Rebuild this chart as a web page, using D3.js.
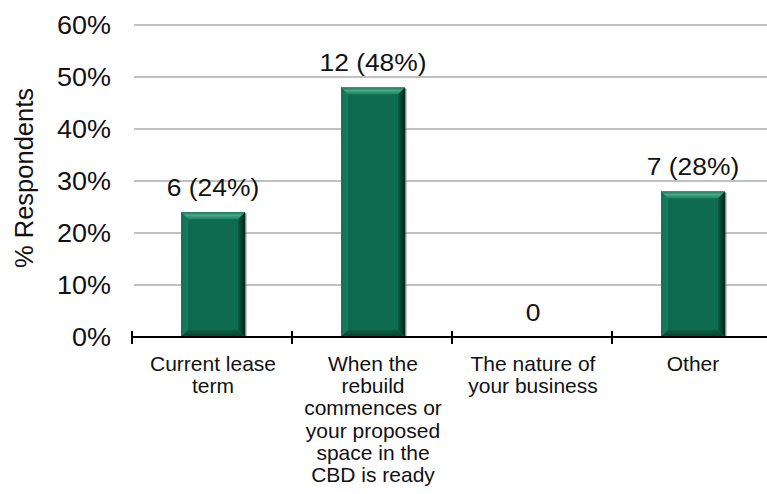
<!DOCTYPE html>
<html>
<head>
<meta charset="utf-8">
<script src="https://cdn.jsdelivr.net/npm/d3@7"></script>
<style>
  html, body { margin: 0; padding: 0; background: #fff; }
  svg { display: block; font-family: "Liberation Sans", Arial, sans-serif; }
</style>
</head>
<body>
<svg id="chart" width="767" height="494"></svg>
<script>
// Survey answers: what drives the timing of a move back to the CBD
const categories = ["Current lease term", "When the rebuild commences or your proposed space in the CBD is ready", "The nature of your business", "Other"];
const categoryLines = [
  ["Current lease", "term"],
  ["When the", "rebuild", "commences or", "your proposed", "space in the", "CBD is ready"],
  ["The nature of", "your business"],
  ["Other"]
];
const counts = [6, 12, 0, 7];
const shares = [0.24, 0.48, 0, 0.28];
const yTicks = [0, 0.1, 0.2, 0.3, 0.4, 0.5, 0.6];
const yTitle = "% Respondents";

const svg = d3.select("#chart");

const x = d3.scaleBand().domain(categories).range([132, 772]).paddingInner(0).paddingOuter(0);
const y = d3.scaleLinear().domain([0, 0.6]).range([337, 25]);
const barW = x.bandwidth() * 0.4;

// gradients for the bevelled bar faces
const defs = svg.append("defs");
const gTop = defs.append("linearGradient").attr("id", "bevTop").attr("x1", 0).attr("y1", 0).attr("x2", 0).attr("y2", 1);
gTop.append("stop").attr("offset", "0%").attr("stop-color", "#1a7a5a");
gTop.append("stop").attr("offset", "45%").attr("stop-color", "#45a886");
gTop.append("stop").attr("offset", "100%").attr("stop-color", "#1d8060");
const gRight = defs.append("linearGradient").attr("id", "bevRight").attr("x1", 0).attr("y1", 0).attr("x2", 1).attr("y2", 0);
gRight.append("stop").attr("offset", "0%").attr("stop-color", "#0b5a41");
gRight.append("stop").attr("offset", "100%").attr("stop-color", "#03261b");
const gLeft = defs.append("linearGradient").attr("id", "bevLeft").attr("x1", 0).attr("y1", 0).attr("x2", 1).attr("y2", 0);
gLeft.append("stop").attr("offset", "0%").attr("stop-color", "#137255");
gLeft.append("stop").attr("offset", "100%").attr("stop-color", "#1a7b5c");
const gBot = defs.append("linearGradient").attr("id", "bevBot").attr("x1", 0).attr("y1", 0).attr("x2", 0).attr("y2", 1);
gBot.append("stop").attr("offset", "0%").attr("stop-color", "#0d5c43");
gBot.append("stop").attr("offset", "100%").attr("stop-color", "#08412f");

// horizontal gridlines
svg.append("g").selectAll("line").data(yTicks.slice(1)).join("line")
  .attr("x1", 134).attr("x2", 767)
  .attr("y1", d => y(d)).attr("y2", d => y(d))
  .attr("stroke", "#a9adad").attr("stroke-width", 1.3);

// y tick labels
svg.append("g").selectAll("text").data(yTicks).join("text")
  .attr("transform", d => `translate(111,${y(d)}) scale(1.08,1)`)
  .attr("dy", "0.36em")
  .attr("text-anchor", "end")
  .attr("font-size", 25)
  .attr("fill", "#111")
  .text(d => d3.format(".0%")(d));

// y axis title
svg.append("text")
  .attr("transform", "translate(33,178) rotate(-90)")
  .attr("text-anchor", "middle")
  .attr("font-size", 25.5)
  .attr("fill", "#111")
  .text(yTitle);

// bars with bevelled edges
const bev = 7;
const bars = svg.append("g").selectAll("g").data(categories.map((c, i) => ({c, i, v: shares[i]}))).join("g");
bars.each(function(d) {
  if (d.v <= 0) return;
  const g = d3.select(this);
  const x0 = x(d.c) + (x.bandwidth() - barW) / 2 + 1;
  const x1 = x0 + barW;
  const y0 = y(d.v);
  const y1 = y(0);
  // thin shadow at the right edge
  g.append("rect").attr("x", x1).attr("y", y0 + 1).attr("width", 1.5).attr("height", y1 - y0 - 1).attr("fill", "#2a3a34").attr("opacity", 0.55);
  g.append("rect").attr("x", x0).attr("y", y0).attr("width", barW).attr("height", y1 - y0).attr("fill", "#0f6b4f");
  const poly = (pts, fill) => g.append("polygon").attr("points", pts.map(p => p.join(",")).join(" ")).attr("fill", fill);
  poly([[x0, y0], [x1, y0], [x1 - bev, y0 + bev], [x0 + bev, y0 + bev]], "url(#bevTop)");
  poly([[x0, y0], [x0 + bev, y0 + bev], [x0 + bev, y1 - bev], [x0, y1]], "url(#bevLeft)");
  poly([[x1, y0], [x1, y1], [x1 - bev, y1 - bev], [x1 - bev, y0 + bev]], "url(#bevRight)");
  poly([[x0, y1], [x0 + bev, y1 - bev], [x1 - bev, y1 - bev], [x1, y1]], "url(#bevBot)");
});

// value labels above bars
svg.append("g").selectAll("text").data(categories).join("text")
  .attr("transform", (c, i) => `translate(${x(c) + x.bandwidth() / 2 + 1},${y(shares[i]) - 16}) scale(1.1,1)`)
  .attr("text-anchor", "middle")
  .attr("font-size", 24)
  .attr("fill", "#111")
  .text((c, i) => counts[i] === 0 ? "0" : `${counts[i]} (${d3.format(".0%")(shares[i])})`);

// x axis baseline with crossing ticks at category boundaries
svg.append("line")
  .attr("x1", 132).attr("x2", 767)
  .attr("y1", y(0)).attr("y2", y(0))
  .attr("stroke", "#000").attr("stroke-width", 2);
const bounds = categories.map(c => x(c));
svg.append("g").selectAll("line").data(bounds).join("line")
  .attr("x1", d => d).attr("x2", d => d)
  .attr("y1", y(0) - 6).attr("y2", y(0) + 7)
  .attr("stroke", "#000").attr("stroke-width", 2);

// category labels, wrapped
const cat = svg.append("g").selectAll("text").data(categories).join("text")
  .attr("text-anchor", "middle")
  .attr("font-size", 21)
  .attr("fill", "#111");
cat.each(function(c, i) {
  const t = d3.select(this);
  categoryLines[i].forEach((line, k) => {
    t.append("tspan")
      .attr("x", x(c) + x.bandwidth() / 2 + 1)
      .attr("y", 371 + k * 22.2)
      .text(line);
  });
});
</script>
</body>
</html>
